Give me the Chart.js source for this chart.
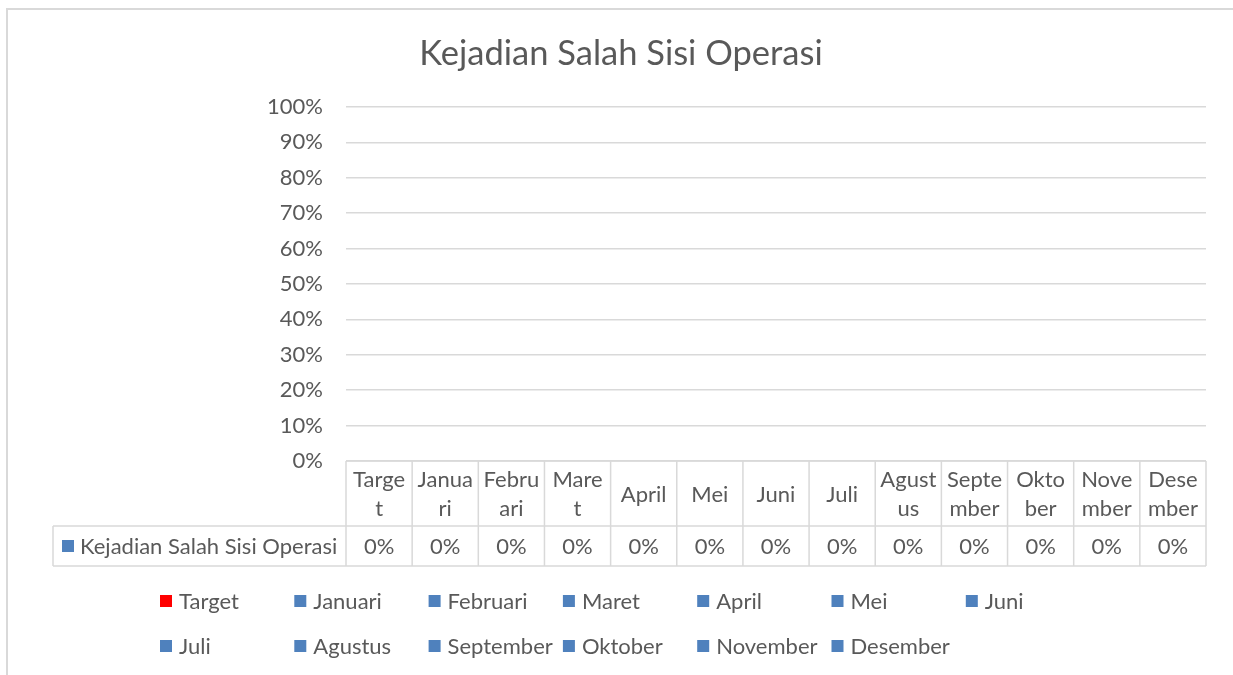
<!DOCTYPE html>
<html><head><meta charset="utf-8">
<script src="https://cdn.jsdelivr.net/npm/chart.js@4.4.0/dist/chart.umd.min.js"></script>
<style>html,body{margin:0;padding:0;background:#fff;overflow:hidden}#wrap{width:1233px;height:675px;position:relative}</style>
</head><body><div id="wrap"><canvas id="c" width="1233" height="675"></canvas></div>
<script>
const chartTitle = "Kejadian Salah Sisi Operasi";
const seriesName = "Kejadian Salah Sisi Operasi";
const categories = ["Target","Januari","Februari","Maret","April","Mei","Juni","Juli","Agustus","September","Oktober","November","Desember"];
const headerLines = [["Targe","t"],["Janua","ri"],["Febru","ari"],["Mare","t"],["April"],["Mei"],["Juni"],["Juli"],["Agust","us"],["Septe","mber"],["Okto","ber"],["Nove","mber"],["Dese","mber"]];
const values = [0,0,0,0,0,0,0,0,0,0,0,0,0];
const valueLabels = ["0%","0%","0%","0%","0%","0%","0%","0%","0%","0%","0%","0%","0%"];
const yMin = 0, yMax = 1, yStep = 0.1;
const pointColors = ["#FF0000","#4F81BD","#4F81BD","#4F81BD","#4F81BD","#4F81BD","#4F81BD","#4F81BD","#4F81BD","#4F81BD","#4F81BD","#4F81BD","#4F81BD"];
const seriesColor = "#4F81BD";

const FONT = "Lato, 'Open Sans', sans-serif";
const TXT = "#595959";
const LINE = "#d9d9d9";

const framePlugin = {
  id: 'frame',
  beforeDraw(chart) {
    const ctx = chart.ctx;
    ctx.save();
    ctx.strokeStyle = LINE; ctx.lineWidth = 2;
    ctx.strokeRect(7, 9, chart.width + 20, chart.height + 20);
    ctx.restore();
  }
};

const tablePlugin = {
  id: 'dataTable',
  afterDraw(chart) {
    const ctx = chart.ctx;
    const xs = chart.scales.x, ys = chart.scales.y;
    const n = categories.length;
    const step = xs.getPixelForValue(1) - xs.getPixelForValue(0);
    const y0 = ys.getPixelForValue(0);
    const y1 = y0 + 65, y2 = y1 + 40;
    const labelLeft = 53;
    const left = xs.getPixelForValue(0) - step / 2;
    const right = xs.getPixelForValue(n - 1) + step / 2;
    ctx.save();
    ctx.strokeStyle = LINE; ctx.lineWidth = 1.5;
    ctx.beginPath();
    ctx.moveTo(left, y0); ctx.lineTo(right, y0);
    ctx.moveTo(labelLeft, y1); ctx.lineTo(right, y1);
    ctx.moveTo(labelLeft, y2); ctx.lineTo(right, y2);
    ctx.moveTo(labelLeft, y1); ctx.lineTo(labelLeft, y2);
    for (let i = 0; i <= n; i++) {
      const bx = i < n ? xs.getPixelForValue(i) - step / 2 : right;
      ctx.moveTo(bx, y0); ctx.lineTo(bx, y2);
    }
    ctx.stroke();

    ctx.fillStyle = TXT;
    ctx.font = "22px " + FONT;
    ctx.textAlign = 'center'; ctx.textBaseline = 'middle';
    const lh = 29;
    for (let i = 0; i < n; i++) {
      const cx = xs.getPixelForValue(i);
      const lines = headerLines[i];
      const cy = (y0 + y1) / 2 + 1;
      const start = cy - (lines.length - 1) * lh / 2;
      lines.forEach((t, k) => ctx.fillText(t, cx, start + k * lh));
      ctx.fillText(valueLabels[i], cx, (y1 + y2) / 2 + 1);
    }
    const my = (y1 + y2) / 2;
    ctx.fillStyle = seriesColor;
    ctx.fillRect(62, my - 6, 12, 12);
    ctx.fillStyle = TXT; ctx.textAlign = 'left';
    ctx.fillText(seriesName, 80, my + 1);

    const colStart = 160, colStep = 134.3, rowYs = [601, 646], perRow = 7;
    for (let i = 0; i < n; i++) {
      const r = Math.floor(i / perRow), c = i % perRow;
      const lx = colStart + c * colStep, ly = rowYs[r];
      ctx.fillStyle = pointColors[i];
      ctx.fillRect(lx, ly - 6, 12, 12);
      ctx.fillStyle = TXT;
      ctx.fillText(categories[i], lx + 19, ly + 1);
    }
    ctx.restore();
  }
};

new Chart(document.getElementById('c'), {
  type: 'bar',
  data: {
    labels: categories,
    datasets: [{ label: seriesName, data: values, backgroundColor: pointColors, borderWidth: 0 }]
  },
  options: {
    responsive: false, animation: false, devicePixelRatio: 1,
    layout: { padding: { left: 36, right: 27, top: 0, bottom: 0 } },
    plugins: {
      legend: { display: false },
      tooltip: { enabled: false },
      title: { display: true, text: chartTitle, color: TXT,
        font: { family: FONT, size: 34.5, weight: 'normal', lineHeight: 1.2 },
        padding: { top: 33, bottom: 32.6 } }
    },
    scales: {
      x: { grid: { display: false }, border: { display: false }, ticks: { display: false },
        afterFit(s) { s.height = 214; } },
      y: { min: yMin, max: yMax,
        ticks: { stepSize: yStep, padding: 23, color: TXT, font: { family: FONT, size: 22 },
          callback: v => Math.round(v * 100) + '%' },
        grid: { color: LINE, lineWidth: 1.5, drawTicks: false },
        border: { display: false },
        afterFit(s) { s.width = 310; } }
    }
  },
  plugins: [framePlugin, tablePlugin]
});
</script></body></html>
